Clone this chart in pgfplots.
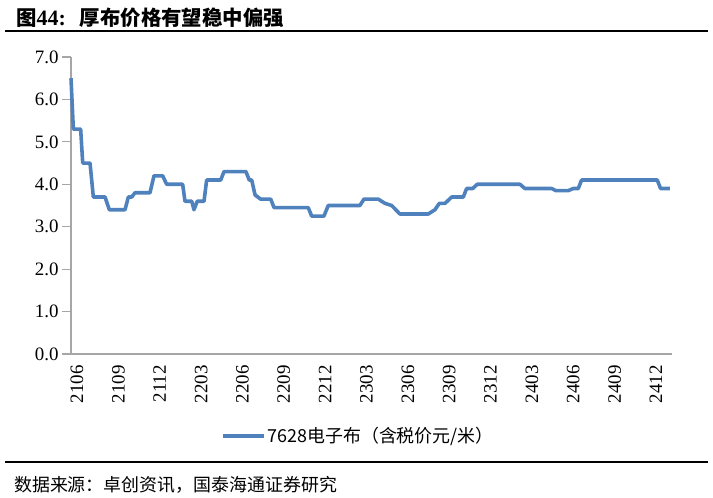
\documentclass[border=0pt]{standalone}
\usepackage{fontspec}
\setmainfont{Liberation Serif}
\newfontfamily\cjk{Noto Sans CJK SC}
\newfontfamily\tnr{Liberation Serif}
\usepackage{pgfplots}
\pgfplotsset{compat=1.18}
\definecolor{lineblue}{HTML}{4F81BD}
\definecolor{axgray}{HTML}{A6A6A6}
\begin{document}
\begin{tikzpicture}[x=1bp,y=1bp]
\path[use as bounding box] (0,0) rectangle (713,-498);
\node[anchor=west, inner sep=0pt, font=\fontsize{20.5}{24}\selectfont] at (16,-18) {{\cjk\bfseries 图}{\tnr\bfseries\fontsize{22}{24}\selectfont 44:}\hspace{14bp}{\cjk\bfseries 厚布价格有望稳中偏强}};
\draw[line width=1.2bp] (5,-31) -- (708,-31);
\draw[line width=1.2bp] (5,-462) -- (708,-462);
\node[anchor=west, inner sep=0pt, font=\fontsize{18}{21}\selectfont\cjk] at (14,-485) {数据来源：卓创资讯，国泰海通证券研究};
\begin{axis}[
  at={(71bp,-354bp)}, anchor=south west,
  scale only axis, width=601bp, height=297bp,
  xmin=0, xmax=43.6, ymin=0, ymax=7,
  axis x line=bottom, axis y line=left,
  axis line style={axgray, line width=1.5bp, -},
  xtick={0,3,...,42},
  xticklabels={2106,2109,2112,2203,2206,2209,2212,2303,2306,2309,2312,2403,2406,2409,2412},
  xtick style={draw=none},
  ytick={0,1,...,7},
  ytick style={axgray, line width=1.2bp},
  tick align=outside, major tick length=9bp,
  tick label style={font=\fontsize{19}{22}\selectfont},
  xticklabel style={rotate=90, anchor=east, inner sep=2bp, yshift=-6bp},
  yticklabel style={/pgf/number format/.cd, fixed, fixed zerofill, precision=1, assume math mode=true},
  clip=false,
  legend style={at={(0.478,-0.276)}, anchor=center, draw=none, fill=none, font=\fontsize{18}{21}\selectfont\cjk},
  legend image code/.code={\draw[#1] (0bp,0bp) -- (41bp,0bp);},
]
\addplot[lineblue, line width=3.6bp, line join=round] coordinates {
(0,6.5) (0.17,5.3) (0.70,5.3) (0.85,4.5) (1.38,4.5) (1.62,3.7) (2.47,3.7) (2.78,3.4) (3.92,3.4) (4.16,3.7) (4.40,3.7) (4.64,3.8) (5.73,3.8) (6.02,4.2) (6.65,4.2) (6.94,4.0) (8.10,4.0) (8.27,3.6) (8.76,3.6) (8.92,3.4) (9.16,3.6) (9.65,3.6) (9.84,4.1) (10.86,4.1) (11.10,4.3) (12.69,4.3) (12.93,4.1) (13.11,4.1) (13.35,3.75) (13.76,3.65) (14.49,3.65) (14.73,3.45) (17.21,3.45) (17.46,3.25) (18.35,3.25) (18.66,3.5) (20.96,3.5) (21.25,3.65) (22.29,3.65) (22.78,3.55) (23.26,3.5) (23.86,3.3) (25.92,3.3) (26.40,3.4) (26.72,3.55) (27.13,3.55) (27.62,3.7) (28.46,3.7) (28.70,3.9) (29.14,3.9) (29.47,4.0) (32.57,4.0) (32.93,3.9) (34.87,3.9) (35.18,3.85) (36.07,3.85) (36.43,3.9) (36.80,3.9) (37.04,4.1) (42.53,4.1) (42.77,3.9) (43.45,3.9)
};
\addlegendentry{7628电子布（含税价元/米）}
\end{axis}
\end{tikzpicture}
\end{document}
